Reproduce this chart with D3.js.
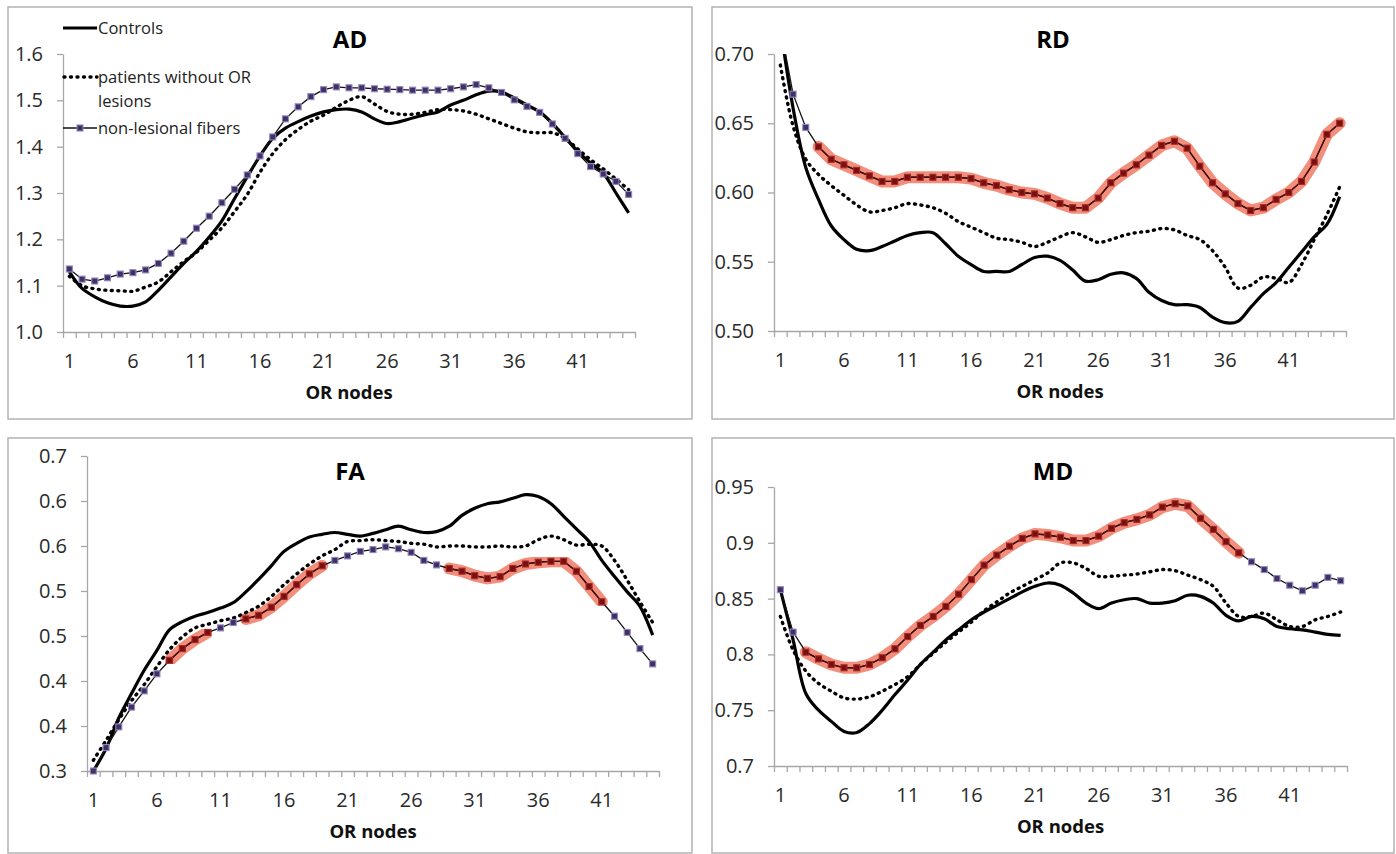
<!DOCTYPE html>
<html>
<head>
<meta charset="utf-8">
<script src="https://cdn.jsdelivr.net/npm/d3@7"></script>
<style>
  body { margin: 0; background: #fff; }
  svg { display: block; font-family: "Open Sans", sans-serif; }
</style>
</head>
<body>
<div id="chart"></div>
<script>
// OR nodes along the tract
const nodes = d3.range(1, 46);
const nodeTicks = [1, 6, 11, 16, 21, 26, 31, 36, 41];

const adControls = [1.130, 1.094, 1.076, 1.063, 1.056, 1.056, 1.065, 1.090, 1.119, 1.148,
  1.174, 1.205, 1.240, 1.288, 1.335, 1.380, 1.418, 1.440, 1.454, 1.466,
  1.475, 1.480, 1.481, 1.475, 1.460, 1.450, 1.454, 1.462, 1.469, 1.475,
  1.490, 1.500, 1.512, 1.520, 1.518, 1.505, 1.490, 1.475, 1.450, 1.420,
  1.390, 1.365, 1.343, 1.300, 1.257];
const adPatients = [1.120, 1.100, 1.093, 1.090, 1.089, 1.088, 1.097, 1.108, 1.130, 1.152,
  1.172, 1.198, 1.225, 1.260, 1.297, 1.345, 1.385, 1.415, 1.437, 1.455,
  1.468, 1.485, 1.500, 1.508, 1.492, 1.476, 1.470, 1.470, 1.474, 1.480,
  1.480, 1.477, 1.470, 1.460, 1.450, 1.440, 1.432, 1.430, 1.430, 1.418,
  1.395, 1.372, 1.352, 1.330, 1.307];
const adFibers = [1.136, 1.114, 1.110, 1.117, 1.125, 1.128, 1.134, 1.148, 1.170, 1.196,
  1.224, 1.250, 1.279, 1.308, 1.339, 1.380, 1.421, 1.460, 1.486, 1.508,
  1.523, 1.529, 1.527, 1.527, 1.525, 1.524, 1.523, 1.522, 1.522, 1.522,
  1.525, 1.529, 1.534, 1.527, 1.517, 1.501, 1.487, 1.474, 1.449, 1.418,
  1.385, 1.357, 1.341, 1.325, 1.297];

const rdControls = [0.720, 0.661, 0.618, 0.595, 0.576, 0.566, 0.559, 0.558, 0.561, 0.565,
  0.569, 0.571, 0.571, 0.563, 0.554, 0.548, 0.543, 0.543, 0.543, 0.548,
  0.553, 0.554, 0.551, 0.544, 0.536, 0.537, 0.541, 0.542, 0.538, 0.528,
  0.522, 0.519, 0.519, 0.517, 0.510, 0.506, 0.507, 0.517, 0.527, 0.535,
  0.546, 0.557, 0.568, 0.577, 0.597];
const rdPatients = [0.692, 0.648, 0.624, 0.613, 0.605, 0.598, 0.591, 0.586, 0.587, 0.589,
  0.592, 0.591, 0.589, 0.585, 0.579, 0.575, 0.571, 0.567, 0.566, 0.564,
  0.561, 0.564, 0.568, 0.571, 0.568, 0.564, 0.566, 0.569, 0.571, 0.572,
  0.574, 0.573, 0.569, 0.566, 0.558, 0.546, 0.531, 0.533, 0.539, 0.538,
  0.535, 0.548, 0.566, 0.584, 0.604];
const rdFibers = [0.720, 0.671, 0.647, 0.633, 0.624, 0.620, 0.616, 0.612, 0.608, 0.608,
  0.611, 0.611, 0.611, 0.611, 0.611, 0.610, 0.607, 0.605, 0.602, 0.600,
  0.599, 0.596, 0.592, 0.589, 0.589, 0.596, 0.607, 0.614, 0.620, 0.627,
  0.634, 0.637, 0.632, 0.619, 0.607, 0.599, 0.592, 0.587, 0.589, 0.595,
  0.600, 0.608, 0.622, 0.642, 0.650];

const faControls = [0.300, 0.325, 0.359, 0.386, 0.412, 0.434, 0.457, 0.466, 0.472, 0.476,
  0.481, 0.487, 0.499, 0.513, 0.528, 0.544, 0.553, 0.560, 0.563, 0.565,
  0.563, 0.561, 0.564, 0.568, 0.572, 0.568, 0.565, 0.566, 0.572, 0.584,
  0.592, 0.597, 0.599, 0.603, 0.607, 0.605, 0.597, 0.583, 0.569, 0.555,
  0.534, 0.516, 0.499, 0.483, 0.451];
const faPatients = [0.312, 0.334, 0.357, 0.378, 0.396, 0.416, 0.435, 0.449, 0.459, 0.463,
  0.467, 0.470, 0.476, 0.483, 0.494, 0.507, 0.519, 0.530, 0.539, 0.546,
  0.555, 0.556, 0.557, 0.556, 0.555, 0.553, 0.552, 0.549, 0.550, 0.550,
  0.549, 0.549, 0.550, 0.549, 0.550, 0.557, 0.561, 0.557, 0.551, 0.552,
  0.550, 0.534, 0.512, 0.488, 0.465];
const faFibers = [0.300, 0.326, 0.349, 0.371, 0.389, 0.408, 0.423, 0.436, 0.446, 0.454,
  0.459, 0.465, 0.469, 0.473, 0.482, 0.494, 0.507, 0.519, 0.528, 0.534,
  0.539, 0.544, 0.546, 0.549, 0.547, 0.543, 0.534, 0.529, 0.525, 0.522,
  0.517, 0.514, 0.516, 0.525, 0.530, 0.532, 0.533, 0.533, 0.522, 0.505,
  0.488, 0.472, 0.454, 0.436, 0.419];

const mdControls = [0.858, 0.813, 0.765, 0.750, 0.740, 0.731, 0.730, 0.738, 0.750, 0.764,
  0.777, 0.791, 0.802, 0.813, 0.822, 0.831, 0.838, 0.844, 0.850, 0.856,
  0.861, 0.864, 0.862, 0.855, 0.846, 0.841, 0.846, 0.849, 0.850, 0.846,
  0.846, 0.848, 0.853, 0.852, 0.846, 0.835, 0.830, 0.834, 0.832, 0.825,
  0.823, 0.822, 0.820, 0.818, 0.817];
const mdPatients = [0.834, 0.804, 0.785, 0.774, 0.767, 0.761, 0.760, 0.762, 0.767, 0.773,
  0.780, 0.791, 0.801, 0.811, 0.820, 0.829, 0.839, 0.847, 0.855, 0.861,
  0.867, 0.873, 0.882, 0.882, 0.877, 0.870, 0.870, 0.871, 0.872, 0.874,
  0.876, 0.875, 0.871, 0.867, 0.861, 0.846, 0.834, 0.834, 0.837, 0.831,
  0.825, 0.825, 0.831, 0.834, 0.838];
const mdFibers = [0.858, 0.820, 0.802, 0.796, 0.791, 0.788, 0.788, 0.791, 0.797, 0.805,
  0.816, 0.826, 0.834, 0.843, 0.854, 0.867, 0.880, 0.889, 0.897, 0.904,
  0.908, 0.907, 0.905, 0.902, 0.902, 0.906, 0.913, 0.918, 0.921, 0.925,
  0.932, 0.935, 0.933, 0.922, 0.912, 0.901, 0.891, 0.883, 0.876, 0.868,
  0.862, 0.857, 0.862, 0.869, 0.866];

// node ranges (first, last) drawn with the red highlight
const adLesional = [];
const rdLesional = [[4, 45]];
const faLesional = [[7, 10], [13, 19], [29, 41]];
const mdLesional = [[3, 37]];

const adTicks = [1.0, 1.1, 1.2, 1.3, 1.4, 1.5, 1.6];
const adTickLabels = ["1.0", "1.1", "1.2", "1.3", "1.4", "1.5", "1.6"];
const rdTicks = [0.50, 0.55, 0.60, 0.65, 0.70];
const rdTickLabels = ["0.50", "0.55", "0.60", "0.65", "0.70"];
const faTicks = [0.30, 0.35, 0.40, 0.45, 0.50, 0.55, 0.60, 0.65];
const faTickLabels = ["0.3", "0.4", "0.4", "0.5", "0.5", "0.6", "0.6", "0.7"];
const mdTicks = [0.70, 0.75, 0.80, 0.85, 0.90, 0.95];
const mdTickLabels = ["0.7", "0.75", "0.8", "0.85", "0.9", "0.95"];

const legendLabels = ["Controls", "patients without OR", "lesions", "non-lesional fibers"];
const xTitle = "OR nodes";

const panels = [
  {title: "AD", box: [8, 7, 692, 419], plot: [63, 54, 635, 332], titleY: 48,
   domain: [1.0, 1.6], ticks: adTicks, tickLabels: adTickLabels,
   controls: adControls, patients: adPatients, fibers: adFibers, lesional: adLesional, legend: true},
  {title: "RD", box: [712, 7, 1394, 419], plot: [774, 54, 1346, 331], titleY: 48,
   domain: [0.50, 0.70], ticks: rdTicks, tickLabels: rdTickLabels,
   controls: rdControls, patients: rdPatients, fibers: rdFibers, lesional: rdLesional},
  {title: "FA", box: [8, 438, 692, 853], plot: [87, 456, 659, 771], titleY: 480,
   domain: [0.30, 0.65], ticks: faTicks, tickLabels: faTickLabels,
   controls: faControls, patients: faPatients, fibers: faFibers, lesional: faLesional},
  {title: "MD", box: [712, 438, 1394, 853], plot: [774, 487, 1347, 766], titleY: 480,
   domain: [0.70, 0.95], ticks: mdTicks, tickLabels: mdTickLabels,
   controls: mdControls, patients: mdPatients, fibers: mdFibers, lesional: mdLesional}
];

const axisColor = "#a6a6a6";
const dotted = "1 5.5";

const svg = d3.select("#chart").append("svg")
    .attr("width", 1396)
    .attr("height", 854);

const defs = svg.append("defs");
defs.append("filter").attr("id", "glow")
    .attr("x", "-10%").attr("y", "-10%").attr("width", "120%").attr("height", "120%")
  .append("feGaussianBlur").attr("stdDeviation", 0.7);

function drawMarkers(g, pts, fill, stroke) {
    g.selectAll(null)
        .data(pts)
        .enter().append("rect")
        .attr("x", d => d[0] - 3)
        .attr("y", d => d[1] - 3)
        .attr("width", 6)
        .attr("height", 6)
        .attr("fill", fill)
        .attr("stroke", stroke)
        .attr("stroke-width", 1.1);
}

panels.forEach((p, i) => {
    const [bx0, by0, bx1, by1] = p.box;
    const [px0, py0, px1, py1] = p.plot;

    svg.append("rect")
        .attr("x", bx0).attr("y", by0)
        .attr("width", bx1 - bx0).attr("height", by1 - by0)
        .attr("fill", "#fff")
        .attr("stroke", "#b3b3b3")
        .attr("stroke-width", 1.5);

    const x = d3.scaleBand().domain(nodes).range([px0, px1]);
    const xEdge = d3.scaleLinear().domain([0, nodes.length]).range([px0, px1]);
    const y = d3.scaleLinear().domain(p.domain).range([py1, py0]);
    const cx = n => x(n) + x.bandwidth() / 2;

    // Y axis
    const yAxis = svg.append("g")
        .attr("transform", "translate(" + px0 + ",0)")
        .call(d3.axisLeft(y).tickValues(p.ticks)
            .tickFormat((d, j) => p.tickLabels[j])
            .tickSize(6).tickSizeOuter(0).tickPadding(14));

    // X axis: tick marks on category edges, labels every 5 nodes
    const xAxis = svg.append("g")
        .attr("transform", "translate(0," + py1 + ")")
        .call(d3.axisBottom(xEdge).tickValues(d3.range(0, nodes.length + 1))
            .tickFormat("").tickSize(6).tickSizeOuter(0));
    const xLabels = svg.append("g")
        .attr("transform", "translate(0," + py1 + ")")
        .call(d3.axisBottom(x).tickValues(nodeTicks).tickSize(0).tickPadding(22));
    xLabels.select(".domain").remove();

    [yAxis, xAxis, xLabels].forEach(a => {
        a.attr("font-family", "Open Sans").attr("font-size", 20);
        a.selectAll(".domain, .tick line").attr("stroke", axisColor).attr("stroke-width", 1.3);
        a.selectAll("text").attr("fill", "#2a2a2a");
    });

    svg.append("text")
        .attr("x", (px0 + px1) / 2)
        .attr("y", py1 + 67)
        .attr("text-anchor", "middle")
        .attr("font-weight", "bold")
        .attr("font-size", 18.5)
        .attr("fill", "#111")
        .text(xTitle);

    svg.append("text")
        .attr("x", (bx0 + bx1) / 2)
        .attr("y", p.titleY)
        .attr("text-anchor", "middle")
        .attr("font-weight", "bold")
        .attr("font-size", 24)
        .attr("fill", "#000")
        .text(p.title);

    const clipId = "clip" + i;
    defs.append("clipPath").attr("id", clipId)
      .append("rect")
        .attr("x", px0 - 6).attr("y", py0)
        .attr("width", px1 - px0 + 12).attr("height", py1 - py0 + 8);

    const plot = svg.append("g").attr("clip-path", "url(#" + clipId + ")");

    const smooth = d3.line()
        .x((d, j) => cx(nodes[j]))
        .y(d => y(d))
        .curve(d3.curveCatmullRom.alpha(0.5));
    const straight = d3.line()
        .x(d => cx(d[0]))
        .y(d => y(d[1]));

    const fiberPts = p.fibers.map((v, j) => [nodes[j], v]);
    const ranges = p.lesional.map(r => fiberPts.filter(d => d[0] >= r[0] && d[0] <= r[1]));

    // red highlight under lesional nodes
    ranges.forEach(seg => {
        plot.append("path")
            .attr("d", straight(seg))
            .attr("fill", "none")
            .attr("stroke", "#f07a64")
            .attr("stroke-opacity", 0.85)
            .attr("stroke-width", 12)
            .attr("stroke-linecap", "round")
            .attr("stroke-linejoin", "round")
            .attr("filter", "url(#glow)");
    });

    plot.append("path")
        .attr("d", smooth(p.patients))
        .attr("fill", "none")
        .attr("stroke", "#000")
        .attr("stroke-width", 3.4)
        .attr("stroke-linecap", "round")
        .attr("stroke-dasharray", dotted);

    plot.append("path")
        .attr("d", smooth(p.controls))
        .attr("fill", "none")
        .attr("stroke", "#000")
        .attr("stroke-width", 3.2)
        .attr("stroke-linejoin", "round");

    plot.append("path")
        .attr("d", straight(fiberPts))
        .attr("fill", "none")
        .attr("stroke", "#111")
        .attr("stroke-width", 1.3);

    ranges.forEach(seg => {
        plot.append("path")
            .attr("d", straight(seg))
            .attr("fill", "none")
            .attr("stroke", "#4a0a0a")
            .attr("stroke-width", 1.3);
    });

    const inRed = n => p.lesional.some(r => n >= r[0] && n <= r[1]);
    drawMarkers(plot, fiberPts.filter(d => !inRed(d[0])).map(d => [cx(d[0]), y(d[1])]), "#3f3160", "#9486c4");
    drawMarkers(plot, fiberPts.filter(d => inRed(d[0])).map(d => [cx(d[0]), y(d[1])]), "#7a0f0f", "#a52a2a");

    if (p.legend) {
        const lg = svg.append("g").attr("font-size", 16.5).attr("fill", "#222");
        lg.append("line").attr("x1", 63).attr("x2", 97).attr("y1", 28).attr("y2", 28)
            .attr("stroke", "#000").attr("stroke-width", 3.2);
        lg.append("text").attr("x", 98).attr("y", 34).text(legendLabels[0]);

        lg.append("line").attr("x1", 64).attr("x2", 97).attr("y1", 77).attr("y2", 77)
            .attr("stroke", "#000").attr("stroke-width", 3.4)
            .attr("stroke-linecap", "round").attr("stroke-dasharray", dotted);
        lg.append("text").attr("x", 98).attr("y", 83).text(legendLabels[1]);
        lg.append("text").attr("x", 98).attr("y", 107).text(legendLabels[2]);

        lg.append("line").attr("x1", 63).attr("x2", 97).attr("y1", 128).attr("y2", 128)
            .attr("stroke", "#111").attr("stroke-width", 1.3);
        drawMarkers(lg, [[80, 128]], "#3f3160", "#9486c4");
        lg.append("text").attr("x", 98).attr("y", 134).text(legendLabels[3]);
    }
});
</script>
</body>
</html>
